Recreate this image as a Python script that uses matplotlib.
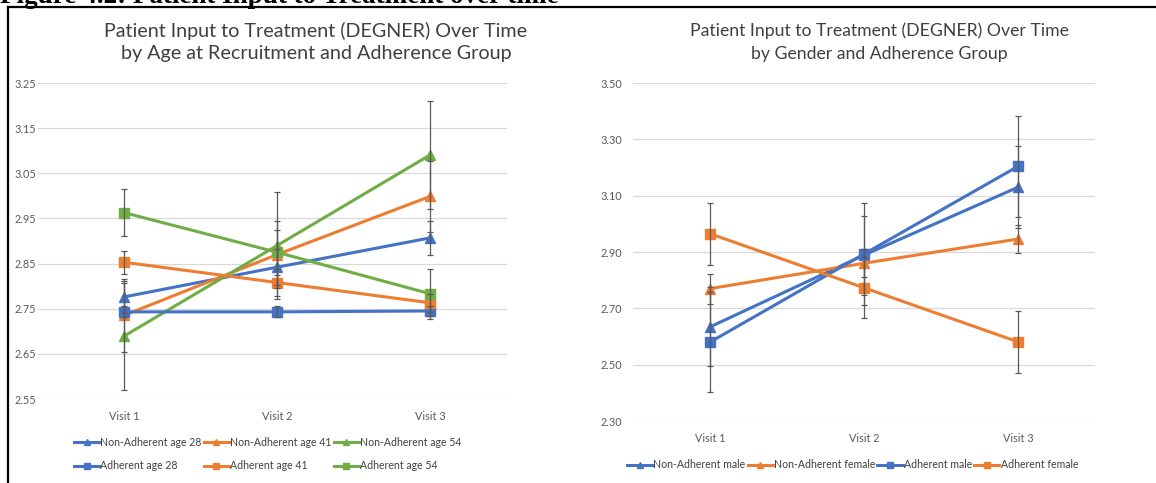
import numpy as np
import matplotlib
matplotlib.use('Agg')
import matplotlib.pyplot as plt
from matplotlib.lines import Line2D

plt.rcParams['font.family'] = ['Lato', 'DejaVu Sans']

visits = ['Visit 1', 'Visit 2', 'Visit 3']

# left panel: age at recruitment
age_labels = ['Non-Adherent age 28', 'Non-Adherent age 41', 'Non-Adherent age 54',
              'Adherent age 28', 'Adherent age 41', 'Adherent age 54']
age_means = [
    [2.776, 2.842, 2.907],
    [2.735, 2.870, 2.999],
    [2.689, 2.890, 3.091],
    [2.743, 2.743, 2.745],
    [2.853, 2.808, 2.763],
    [2.963, 2.875, 2.783],
]
age_err = [
    [0.035, 0.040, 0.037],
    [0.080, 0.075, 0.078],
    [0.118, 0.118, 0.120],
    [0.012, 0.012, 0.012],
    [0.025, 0.030, 0.020],
    [0.052, 0.050, 0.055],
]
age_ticks = [2.55, 2.65, 2.75, 2.85, 2.95, 3.05, 3.15, 3.25]

# right panel: gender
sex_labels = ['Non-Adherent male', 'Non-Adherent female', 'Adherent male', 'Adherent female']
sex_means = [
    [2.634, 2.889, 3.130],
    [2.770, 2.860, 2.946],
    [2.580, 2.893, 3.204],
    [2.965, 2.773, 2.581],
]
sex_err = [
    [0.140, 0.140, 0.145],
    [0.053, 0.050, 0.050],
    [0.178, 0.180, 0.180],
    [0.110, 0.108, 0.110],
]
sex_ticks = [2.30, 2.50, 2.70, 2.90, 3.10, 3.30, 3.50]

blue, orange, green = '#4472C4', '#ED7D31', '#70AD47'
age_colors = [blue, orange, green, blue, orange, green]
age_markers = ['^', '^', '^', 's', 's', 's']
sex_colors = [blue, orange, blue, orange]
sex_markers = ['^', '^', 's', 's']

W, H = 1156, 483
fig = plt.figure(figsize=(W / 100, H / 100), dpi=100)


def draw(ax, means, errs, labels, colors, markers, ticks, ypad):
    x = np.arange(len(visits))
    handles = []
    for m, e, lab, c, mk in zip(means, errs, labels, colors, markers):
        ax.plot(x, m, color=c, lw=2.2, marker=mk, ms=7.3, zorder=3)
        ax.errorbar(x, m, yerr=e, fmt='none', ecolor='#595959', elinewidth=0.9,
                    capsize=2.5, capthick=0.9, zorder=4)
        handles.append(Line2D([], [], color=c, lw=2.2, marker=mk, ms=4.5, label=lab))
    ax.set_xticks(x)
    ax.set_xticklabels(visits)
    ax.set_yticks(ticks)
    ax.set_yticklabels(['{:.2f}'.format(t) for t in ticks])
    ax.set_ylim(ticks[0], ticks[-1])
    ax.grid(axis='y', color='#D9D9D9', lw=0.9)
    ax.set_axisbelow(True)
    for s in ax.spines.values():
        s.set_visible(False)
    ax.tick_params(length=0, labelsize=7.8, labelcolor='#595959')
    ax.tick_params(axis='y', pad=ypad)
    ax.tick_params(axis='x', pad=9)
    return handles


ax1 = fig.add_axes([38 / W, 1 - 399 / H, 469 / W, 316 / H])
h1 = draw(ax1, age_means, age_err, age_labels, age_colors, age_markers, age_ticks, 1.5)
ax1.set_xlim(-0.56, 2.5)
order = [0, 3, 1, 4, 2, 5]
ax1.legend([h1[i] for i in order], [age_labels[i] for i in order], ncol=3,
           loc='center', bbox_to_anchor=(0.49, -0.174), frameon=False, fontsize=7.6,
           handlelength=2.4, handletextpad=0.1, columnspacing=0.2, labelspacing=1.2,
           labelcolor='#404040')

ax2 = fig.add_axes([633 / W, 1 - 421 / H, 462 / W, 338 / H])
h2 = draw(ax2, sex_means, sex_err, sex_labels, sex_colors, sex_markers, sex_ticks, 8)
ax2.set_xlim(-0.5, 2.5)
ax2.legend(handles=h2, ncol=4, loc='center', bbox_to_anchor=(0.475, -0.13), frameon=False,
           fontsize=7.6, handlelength=2.4, handletextpad=0.1, columnspacing=0.2,
           labelcolor='#404040')

# chart titles
fig.text(316 / W, 1 - 31 / H, 'Patient Input to Treatment (DEGNER) Over Time', ha='center',
         va='center', fontsize=14.2, color='#404040')
fig.text(316 / W, 1 - 54 / H, 'by Age at Recruitment and Adherence Group', ha='center',
         va='center', fontsize=14.2, color='#404040')
fig.text(879 / W, 1 - 31 / H, 'Patient Input to Treatment (DEGNER) Over Time', ha='center',
         va='center', fontsize=12.7, color='#404040')
fig.text(879 / W, 1 - 54 / H, 'by Gender and Adherence Group', ha='center',
         va='center', fontsize=12.7, color='#404040')

# cut-off document caption and table border
fig.text(0.0, 1 - 3 / H, 'Figure 4.2: Patient Input to Treatment over time', ha='left',
         va='baseline', fontsize=19.5, fontweight='bold', family='Liberation Serif')
fig.add_artist(Line2D([8 / W, 1], [1 - 7 / H, 1 - 7 / H], color='black', lw=1.6))
fig.add_artist(Line2D([8 / W, 8 / W], [0, 1 - 7 / H], color='black', lw=1.6))

fig.savefig('out.png', dpi=100)
